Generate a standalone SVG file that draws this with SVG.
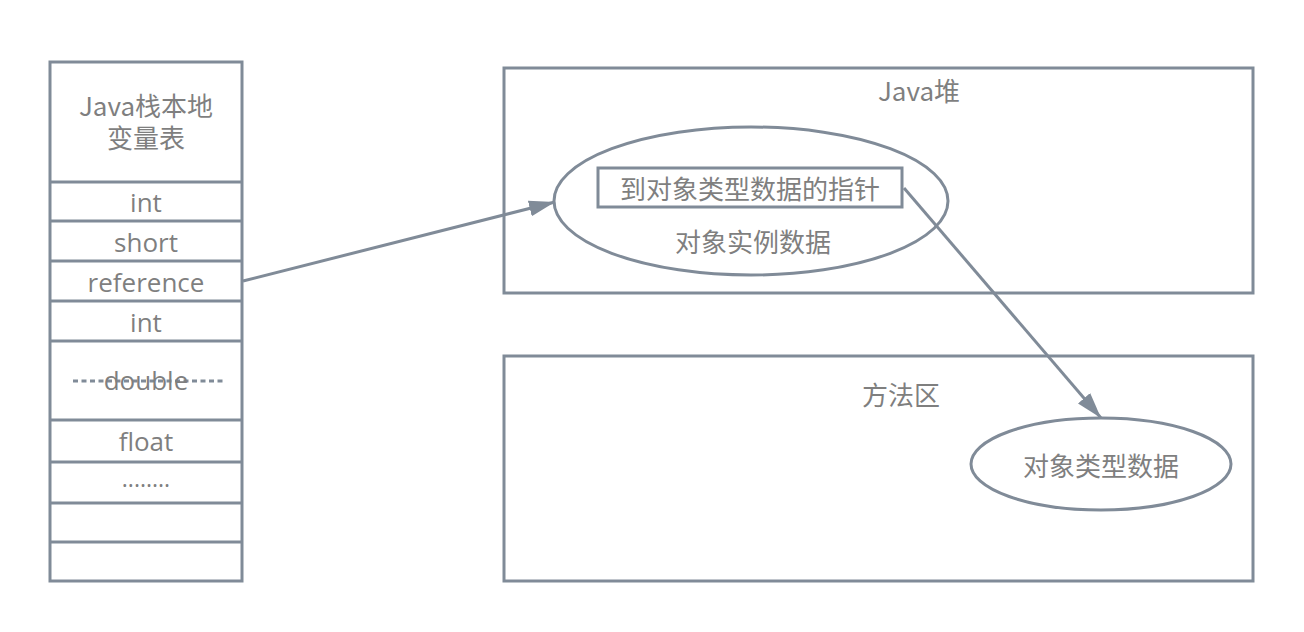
<svg xmlns="http://www.w3.org/2000/svg" width="1304" height="632" viewBox="0 0 1304 632">
<style>
.box{fill:#fff;stroke:#808b98;stroke-width:3}
.ln{fill:none;stroke:#808b98;stroke-width:3}
.t{font-family:"Open Sans","Noto Sans CJK SC",sans-serif;font-size:26px;fill:#7f7f7f;text-anchor:middle}
.c{font-family:"Noto Sans CJK SC","Open Sans",sans-serif;font-size:26px;fill:#7f7f7f;text-anchor:middle}
</style>
<defs>
<marker id="ah" markerUnits="userSpaceOnUse" markerWidth="30" markerHeight="20" refX="26" refY="8" orient="auto">
<path d="M0,0 L26,8 L0,16 Z" fill="#808b98"/>
</marker>
</defs>
<rect width="1304" height="632" fill="#fff"/>
<g id="stack">
<rect class="box" x="50" y="62" width="192" height="519"/>
<line class="ln" x1="50" y1="182" x2="242" y2="182"/>
<line class="ln" x1="50" y1="221" x2="242" y2="221"/>
<line class="ln" x1="50" y1="261" x2="242" y2="261"/>
<line class="ln" x1="50" y1="301" x2="242" y2="301"/>
<line class="ln" x1="50" y1="341" x2="242" y2="341"/>
<line class="ln" x1="50" y1="420" x2="242" y2="420"/>
<line class="ln" x1="50" y1="462" x2="242" y2="462"/>
<line class="ln" x1="50" y1="503" x2="242" y2="503"/>
<line class="ln" x1="50" y1="542" x2="242" y2="542"/>
<line class="ln" x1="73" y1="381" x2="223" y2="381" stroke-dasharray="5 3.5"/>
<text class="c" x="146" y="116">Java栈本地<tspan x="146" dy="32">变量表</tspan></text>
<text class="t" x="146" y="212">int</text>
<text class="t" x="146" y="252">short</text>
<text class="t" x="146" y="292">reference</text>
<text class="t" x="146" y="332">int</text>
<text class="t" x="146" y="390">double</text>
<text class="t" x="146" y="451">float</text>
<text class="t" x="146" y="487" style="font-size:23px">........</text>
</g>
<g id="heap">
<rect class="box" x="504" y="68" width="749" height="225"/>
<text class="c" x="919" y="101">Java堆</text>
</g>
<g id="method-area">
<rect class="box" x="504" y="356" width="749" height="225"/>
<text class="c" x="901" y="405">方法区</text>
</g>
<g id="instance">
<ellipse class="box" cx="751" cy="201" rx="197" ry="74"/>
<text class="c" x="753" y="252">对象实例数据</text>
</g>
<g id="pointer">
<rect class="box" x="598" y="168" width="304" height="39"/>
<text class="c" x="750" y="199">到对象类型数据的指针</text>
</g>
<g id="type-data">
<ellipse class="box" cx="1101" cy="464" rx="130" ry="46"/>
<text class="c" x="1101" y="476">对象类型数据</text>
</g>
<g id="connectors">
<line class="ln" x1="243" y1="281" x2="555" y2="202" marker-end="url(#ah)"/>
<line class="ln" x1="904" y1="188" x2="1101" y2="418" marker-end="url(#ah)"/>
</g>
</svg>
